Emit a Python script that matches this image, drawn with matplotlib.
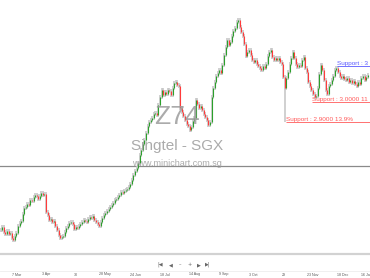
"""
Singtel (Z74) daily candles, minichart style.
Closes read off the reference image; opens are the previous close.
"""

import numpy as np
import matplotlib
import matplotlib.pyplot as plt

matplotlib.use("Agg")

# ─────────────────────────────────────────────────────────────────────────────
# DATA
# ─────────────────────────────────────────────────────────────────────────────

closes = [
    2.360, 2.375, 2.350, 2.340, 2.355, 2.340, 2.345, 2.320, 2.310, 2.330,
    2.345, 2.380, 2.395, 2.405, 2.440, 2.470, 2.475, 2.490, 2.485, 2.510,
    2.505, 2.525, 2.535, 2.530, 2.515, 2.530, 2.545, 2.535, 2.540, 2.450,
    2.435, 2.410, 2.415, 2.400, 2.405, 2.380, 2.360, 2.335, 2.320, 2.325,
    2.330, 2.350, 2.370, 2.380, 2.395, 2.400, 2.390, 2.365, 2.375, 2.370,
    2.380, 2.390, 2.400, 2.410, 2.405, 2.400, 2.415, 2.425, 2.420, 2.430,
    2.410, 2.400, 2.390, 2.380, 2.400, 2.420, 2.435, 2.445, 2.455, 2.465,
    2.475, 2.485, 2.495, 2.510, 2.515, 2.525, 2.535, 2.550, 2.545, 2.555,
    2.560, 2.565, 2.575, 2.590, 2.610, 2.635, 2.655, 2.670, 2.695, 2.735,
    2.760, 2.790, 2.810, 2.845, 2.880, 2.900, 2.910, 2.920, 2.940, 2.945,
    2.935, 2.985, 3.025, 3.060, 3.035, 3.050, 3.040, 3.060, 3.055, 3.035,
    3.070, 3.095, 3.100, 3.085, 3.080, 2.970, 2.950, 2.930, 2.910, 2.890,
    2.880, 2.860, 2.875, 2.905, 2.920, 3.010, 2.990, 2.970, 2.980, 2.960,
    2.940, 2.925, 2.910, 2.885, 2.900, 3.025, 3.070, 3.100, 3.130, 3.145,
    3.160, 3.145, 3.185, 3.235, 3.275, 3.310, 3.285, 3.300, 3.330, 3.355,
    3.370, 3.400, 3.410, 3.375, 3.350, 3.330, 3.290, 3.230, 3.250, 3.260,
    3.235, 3.210, 3.200, 3.210, 3.190, 3.180, 3.170, 3.160, 3.180, 3.170,
    3.190, 3.230, 3.250, 3.260, 3.225, 3.210, 3.220, 3.210, 3.220, 3.200,
    3.190, 3.125, 3.070, 3.120, 3.150, 3.190, 3.220, 3.250, 3.220, 3.190,
    3.175, 3.185, 3.180, 3.210, 3.225, 3.170, 3.150, 3.100, 3.080, 3.060,
    3.040, 3.025, 3.030, 3.070, 3.140, 3.185, 3.160, 3.110, 3.060, 3.040,
    3.080, 3.090, 3.110, 3.130, 3.160, 3.170, 3.150, 3.130, 3.120, 3.130,
    3.115, 3.110, 3.120, 3.100, 3.110, 3.095, 3.105, 3.090, 3.080, 3.100,
    3.090, 3.120, 3.130, 3.110, 3.125, 3.135,
]

# candle whose lower shadow reaches the 2.90 support
long_wick_idx = 182
long_wick_low = 2.90

date_labels = ["7 Mar", "3 Apr", "30", "28 May", "24 Jun", "18 Jul", "14 Aug",
               "9 Sep", "3 Oct", "29", "23 Nov", "18 Dec", "16 Ja"]
date_idx = [10, 29, 48, 67, 86, 105, 124, 143, 162, 181, 200, 219, 233.6]

ref_level = 2.68

supports = [
    # (level, start index, label as visible, colour)
    (2.90, 182.5, "Support : 2.9000 13.9%", "#ff5a5a"),
    (3.00, 199.5, "Support : 3.0000 11", "#ff5a5a"),
    (3.18, 215.5, "Support : 3", "#5a5aff"),
]

# ─────────────────────────────────────────────────────────────────────────────
# FIGURE
# ─────────────────────────────────────────────────────────────────────────────

W, H = 370, 278
GREEN = "#2ca02c"
RED = "#ff3b3b"
WICK = "#c4c4c4"
WATER = "#9c9c9c"

fig = plt.figure(figsize=(W / 100, H / 100), dpi=100)
fig.patch.set_facecolor("white")
ax = fig.add_axes([0, 1 - 254 / H, 1, 254 / H])
ax.set_facecolor("white")

n = len(closes)
x = np.arange(n)
c = np.array(closes)
o = np.r_[c[0], c[:-1]]
top = np.maximum(o, c)
bot = np.minimum(o, c)
pad = 0.012                      # shadow length beyond the body
hi = top + pad
lo = bot - pad
lo[long_wick_idx] = long_wick_low

ax.vlines(x, lo, hi, color=WICK, linewidth=1.1, zorder=2)
up = c >= o
ax.vlines(x[up], bot[up], top[up] + 0.002, color=GREEN, linewidth=0.8, zorder=3)
ax.vlines(x[~up], bot[~up] - 0.002, top[~up], color=RED, linewidth=0.8, zorder=3)

ax.axhline(ref_level, color="#8a8a8a", linewidth=0.9, zorder=1)

for level, start, label, col in supports:
    ax.hlines(level, start, n + 0.5, color=col, linewidth=0.6, zorder=4)
    ax.text(start, level + 0.002, label, color=col, fontsize=4.6,
            family="Liberation Sans", ha="left", va="bottom", zorder=5)

ax.set_xlim(-0.5, n + 0.5)
ax.set_ylim(2.24, 3.51)
ax.set_xticks([])
ax.set_yticks([])
for side in ["top", "right", "left"]:
    ax.spines[side].set_visible(False)
ax.spines["bottom"].set_color("#d2d2d2")
ax.spines["bottom"].set_linewidth(1.6)

# ── watermark ───────────────────────────────────────────────────────────────
def fx(px):
    return px / W

def fy(py):
    return 1 - py / H

fig.text(fx(177), fy(117), "Z74", fontsize=19, color=WATER, alpha=0.85,
         family="Liberation Sans", ha="center", va="center")
fig.text(fx(177), fy(146), "Singtel - SGX", fontsize=11, color=WATER,
         alpha=0.85, family="Liberation Sans", ha="center", va="center")
fig.text(fx(177), fy(163.5), "www.minichart.com.sg", fontsize=6.5,
         color=WATER, alpha=0.85, family="Liberation Sans",
         ha="center", va="center")

# ── navigation bar ──────────────────────────────────────────────────────────
nav = [(160, "|◀"), (171, "◀"), (180, "–"), (190, "+"), (199, "▶"), (208, "▶|")]
for px, sym in nav:
    fig.text(fx(px), fy(264.5), sym, fontsize=3.6, color="#666666",
             ha="center", va="center")

fig.add_artist(plt.Line2D([0, 1], [fy(270.5), fy(270.5)], color="#eeeeee",
                          linewidth=0.6))

# ── date labels ─────────────────────────────────────────────────────────────
trans = ax.get_xaxis_transform()
for idx, lab in zip(date_idx, date_labels):
    ax.text(idx, -(274.5 - 254) / 254, lab, transform=trans, fontsize=2.6,
            color="#555555", family="Liberation Sans", ha="center",
            va="center", clip_on=False)

fig.savefig("out.png", dpi=100)
plt.close(fig)
